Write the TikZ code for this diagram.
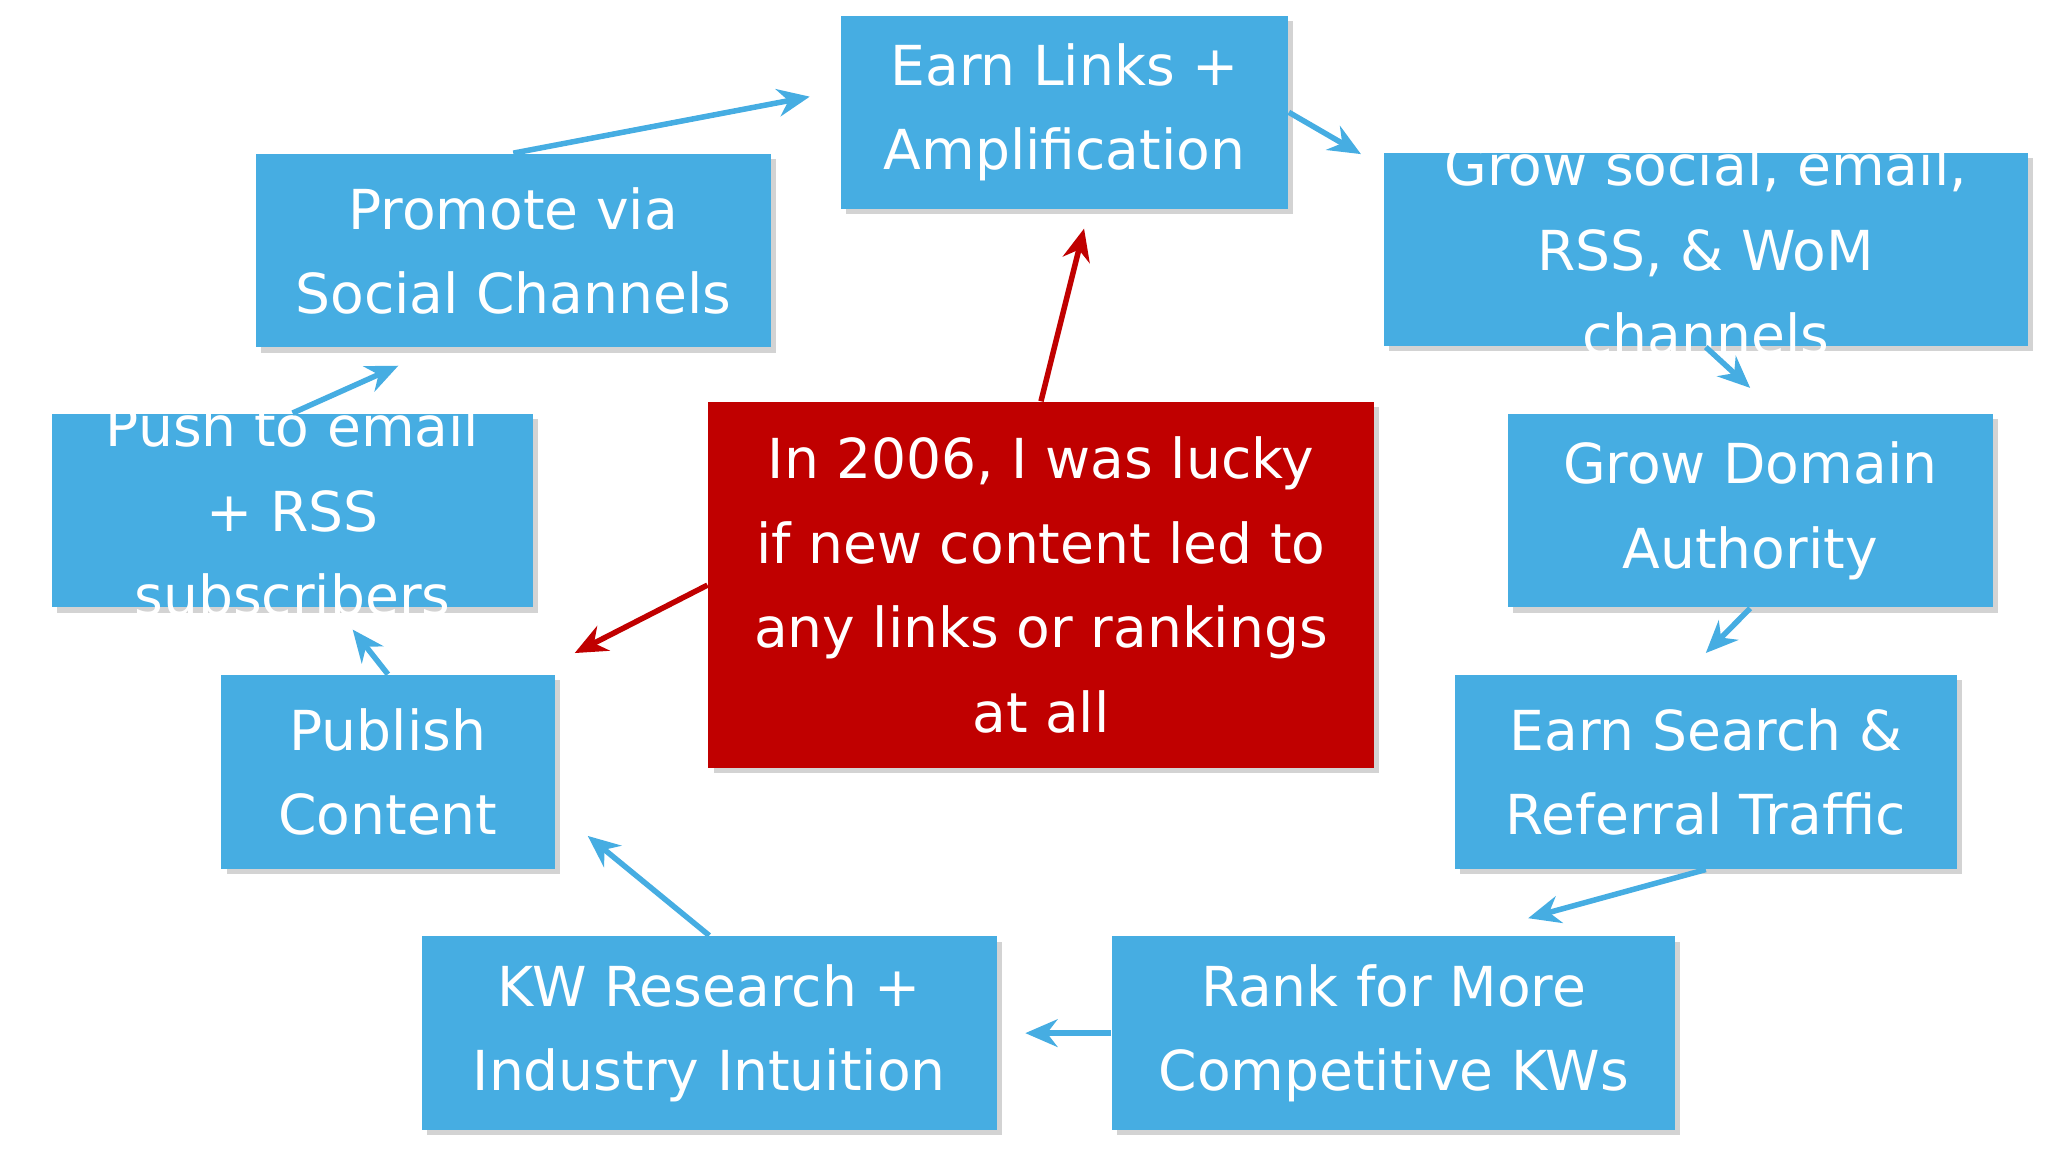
\documentclass[tikz,border=0pt]{standalone}
\usepackage{fontspec}
\setmainfont{DejaVu Sans}
\usetikzlibrary{arrows.meta,shadows}
\definecolor{boxblue}{HTML}{46ADE2}
\definecolor{boxred}{HTML}{C00000}
\tikzset{
  stage/.style={fill=boxblue,text=white,inner sep=0pt,align=center,
    font=\fontsize{12}{18.4}\selectfont,minimum height=1.48cm,
    drop shadow={opacity=0.35,shadow xshift=0.04cm,shadow yshift=-0.04cm}},
  txt/.style={text=white,align=center,font=\fontsize{12}{18.4}\selectfont},
  flow/.style={-{Stealth[length=7pt,width=6pt]},line width=1.2pt,draw=boxblue},
  hot/.style={-{Stealth[length=7pt,width=6pt]},line width=1.2pt,draw=boxred}
}
\begin{document}
\begin{tikzpicture}[x=0.01cm,y=-0.01cm]
    \useasboundingbox (0,0) rectangle (1568,882);

    \node[stage, minimum width=3.42cm] (earn)    at (815,86)  {Earn Links +\\Amplification};
    \node[stage, minimum width=3.94cm] (promote) at (393,192) {Promote via\\Social Channels};
    \node[stage, minimum width=4.93cm] (social)  at (1306,191) {};
    \node[txt] at (social) {Grow social, email,\\RSS, \& WoM\\channels};
    \node[stage, minimum width=3.68cm] (push)    at (224,391) {};
    \node[txt] at (push) {Push to email\\+ RSS\\subscribers};
    \node[stage, minimum width=3.71cm] (domain)  at (1340,391) {Grow Domain\\Authority};
    \node[stage, minimum width=2.55cm] (publish) at (297,591) {Publish\\Content};
    \node[stage, minimum width=3.84cm] (search)  at (1306,591) {Earn Search \&\\Referral Traffic};
    \node[stage, minimum width=4.40cm] (kw)      at (543,791) {KW Research +\\Industry Intuition};
    \node[stage, minimum width=4.31cm] (rank)    at (1067,791) {Rank for More\\Competitive KWs};
    \node[stage, fill=boxred, minimum width=5.09cm, minimum height=2.80cm] (lucky) at (797,448)
        {In 2006, I was lucky\\if new content led to\\any links or rankings\\at all};

    % free arrow ends
    \coordinate (e1) at (620,74);
    \coordinate (e2) at (1042,118);
    \coordinate (e3) at (1340,297);
    \coordinate (e4) at (1306,500);
    \coordinate (e5) at (1170,703);
    \coordinate (e6) at (785,791);
    \coordinate (e7) at (450,640);
    \coordinate (e8) at (270,482);
    \coordinate (e9) at (305,280);
    \coordinate (r1) at (830,175);
    \coordinate (r2) at (440,500);

    \draw[flow] (promote.north) -- (e1);
    \draw[flow] (earn.east) -- (e2);
    \draw[flow] (social.south) -- (e3);
    \draw[flow] (domain.south) -- (e4);
    \draw[flow] (search.south) -- (e5);
    \draw[flow] (rank.west) -- (e6);
    \draw[flow] (kw.north) -- (e7);
    \draw[flow] (publish.north) -- (e8);
    \draw[flow] (push.north) -- (e9);
    \draw[hot] (lucky.north) -- (r1);
    \draw[hot] (lucky.west) -- (r2);
\end{tikzpicture}
\end{document}
